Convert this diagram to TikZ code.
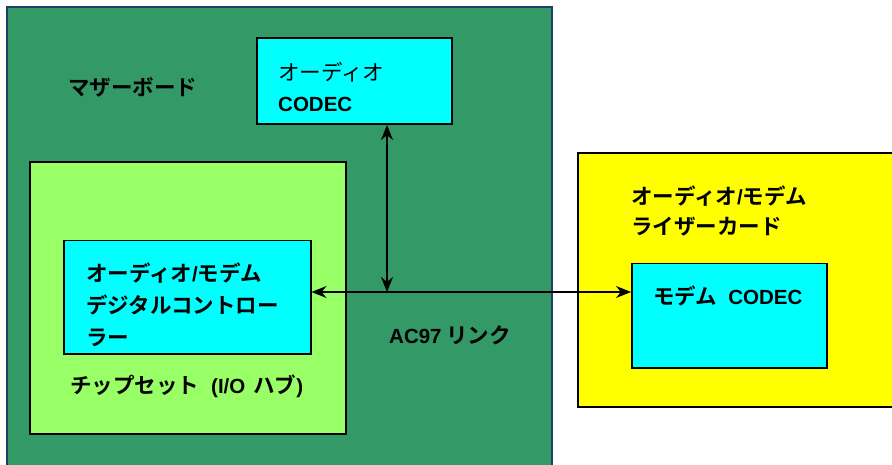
\documentclass[tikz,border=0pt]{standalone}
\usepackage{fontspec}
\setmainfont{Liberation Sans}
\newfontfamily\jpb{Noto Sans CJK JP Bold}
\newfontfamily\jpr{Noto Sans CJK JP}
\newcommand\latb[1]{{\fontsize{20.5}{20.5}\selectfont\rmfamily\bfseries #1}}
\usetikzlibrary{arrows.meta}
\definecolor{mbgreen}{HTML}{339966}
\definecolor{mbborder}{HTML}{1F3F66}
\definecolor{chipgreen}{HTML}{99FF66}
\definecolor{cyanbox}{HTML}{00FFFF}
\definecolor{riseryellow}{HTML}{FFFF00}
\tikzset{
  box/.style={draw=black, line width=2pt, inner sep=0pt, anchor=north west},
  lbl/.style={anchor=base west, inner sep=0pt, font=\fontsize{21.5}{21.5}\selectfont\jpb},
  lat/.style={anchor=base west, inner sep=0pt, font=\fontsize{20.5}{20.5}\selectfont\bfseries},
  conn/.style={line width=1.5pt, {Stealth[length=15pt,width=12pt]}-{Stealth[length=15pt,width=12pt]}}
}
\begin{document}
\begin{tikzpicture}[x=1pt,y=-1pt]
\useasboundingbox (0,0) rectangle (892,465);
% motherboard
\node[box, draw=mbborder, fill=mbgreen, minimum width=545pt, minimum height=480pt] (mb) at (6,6) {};
\node[lbl] (mblbl) at (68,96) {マザーボード};
% audio codec
\node[box, fill=cyanbox, minimum width=195pt, minimum height=86pt] (codec) at (256,37) {};
\node[lat, font=\fontsize{21.5}{21.5}\selectfont\jpr] (codecl1) at (278,81) {オーディオ};
\node[lat] (codecl2) at (278,112) {CODEC};
% chipset
\node[box, fill=chipgreen, minimum width=316pt, minimum height=272pt] (chip) at (29,161) {};
\node[box, line width=1.5pt, fill=cyanbox, minimum width=247pt, minimum height=113pt] (ctrl) at (63,240) {};
\node[lbl] (ctrll1) at (86,281) {オーディオ\latb{/}モデム};
\node[lbl] (ctrll2) at (86,313) {デジタルコントロー};
\node[lbl] (ctrll3) at (86,345) {ラー};
\node[lbl] (chiplbl) at (70,393) {チップセット\hspace{12pt}\latb{(I/O}\hspace{8pt}ハブ\latb{)}};
% riser card
\node[box, fill=riseryellow, minimum width=330pt, minimum height=254pt] (riser) at (577,152) {};
\node[lbl] (riserl1) at (631,205) {オーディオ\latb{/}モデム};
\node[lbl] (riserl2) at (631,235) {ライザーカード};
\node[box, line width=1.5pt, fill=cyanbox, minimum width=195pt, minimum height=104pt] (modem) at (631,263) {};
\node[lbl] (modeml) at (653,305) {モデム\hspace{11pt}\latb{CODEC}};
% link label
\node[lbl] (ac97) at (389,343) {\latb{AC97} リンク};
% connectors
\coordinate (j) at (387,292);
\draw[conn] (ctrl.east |- j) -- (modem.west |- j);
\draw[conn] (j |- codec.south) -- (j);
\end{tikzpicture}
\end{document}
